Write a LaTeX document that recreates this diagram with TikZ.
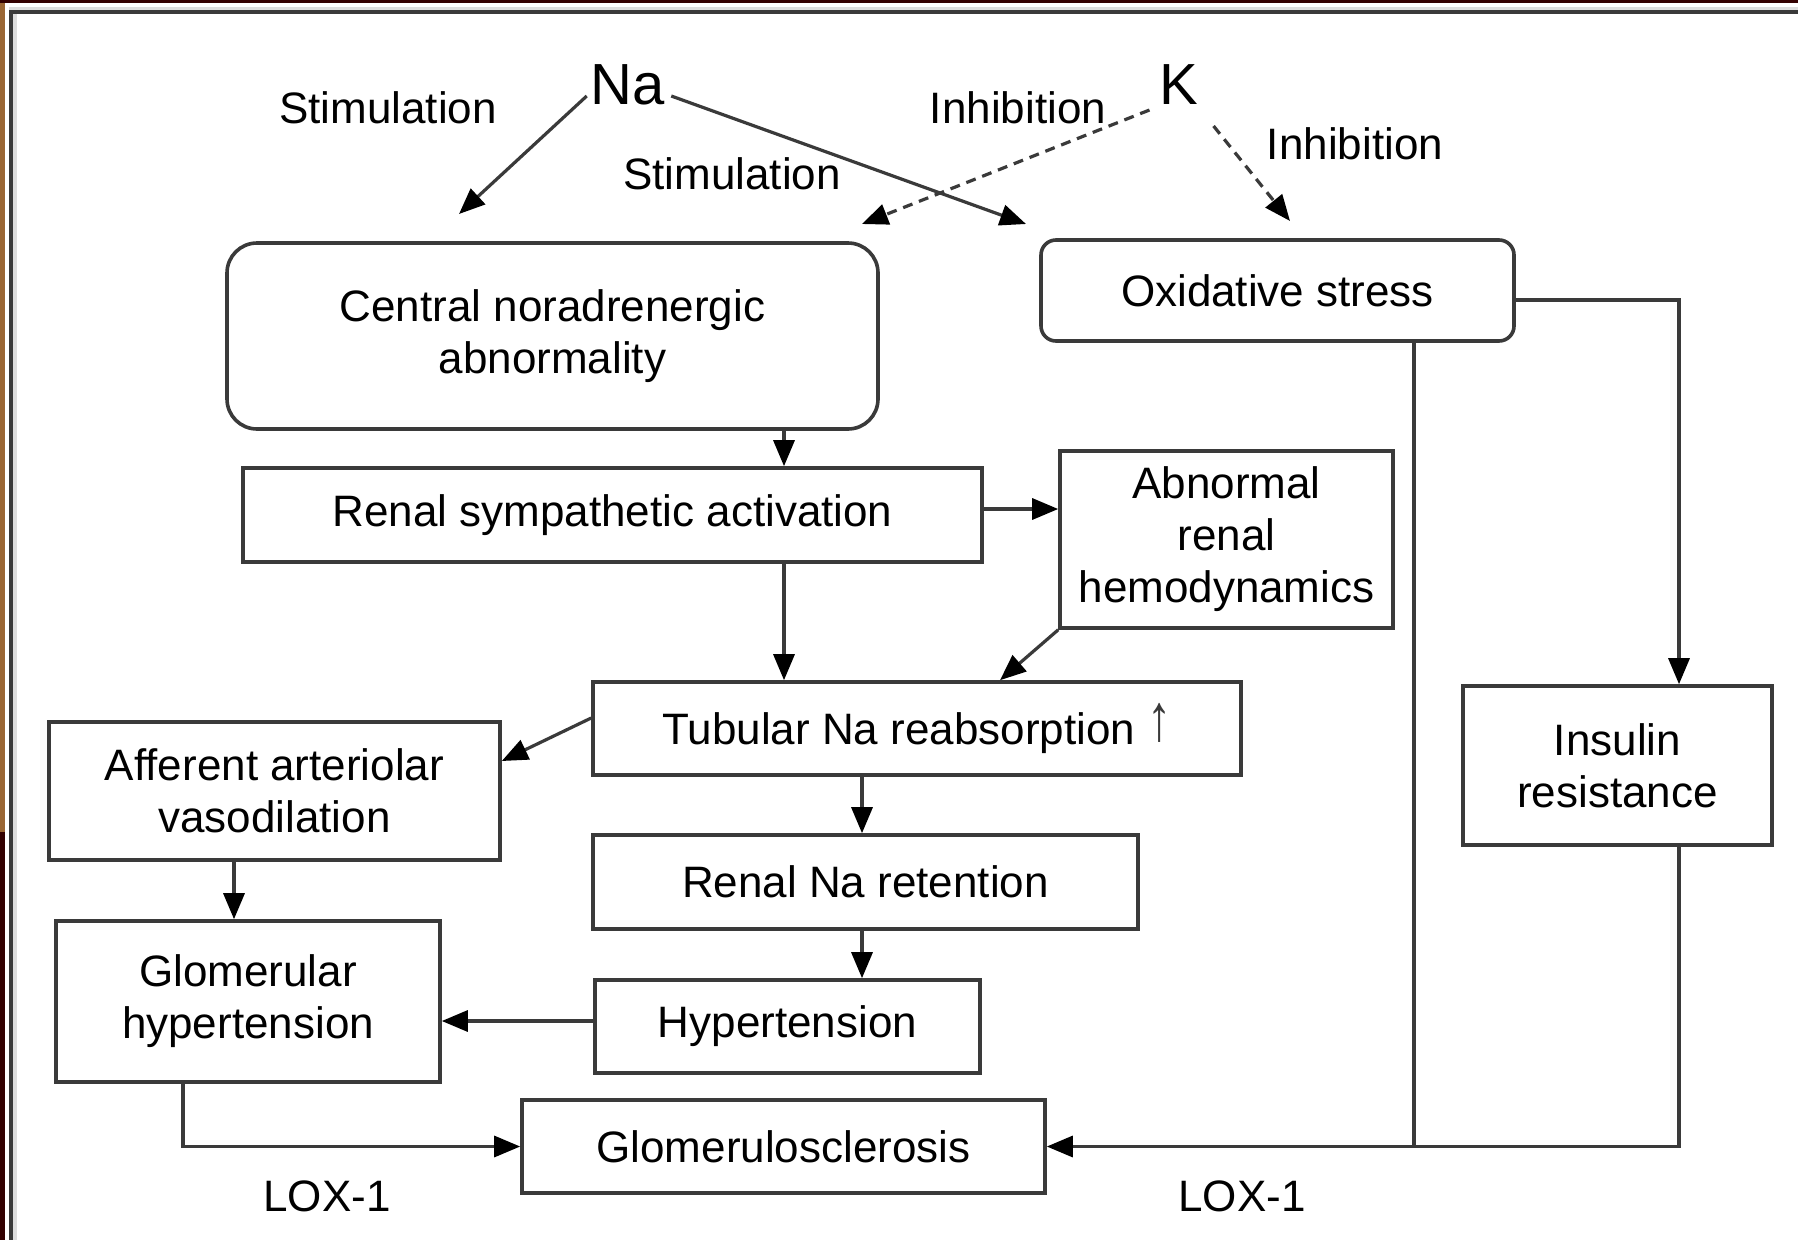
\documentclass[tikz,border=0pt]{standalone}
\usepackage{fontspec}
\setmainfont{Liberation Sans}
\usetikzlibrary{arrows.meta}
\definecolor{framebrown}{HTML}{9A6633}
\definecolor{framemaroon}{HTML}{330000}
\definecolor{linegray}{HTML}{3A3A3A}
\definecolor{lightrule}{HTML}{DDDDDD}
\begin{document}
\begin{tikzpicture}[x=1pt,y=-1pt,
  lbl/.style={font=\fontsize{44}{52}\selectfont, inner sep=0pt, align=center},
  box/.style={lbl, draw=linegray, line width=3.6pt, fill=white, rectangle},
  rbox/.style={box, rounded corners=#1},
  ion/.style={font=\fontsize{58}{60}\selectfont, inner sep=0pt},
  arr/.style={draw=linegray, line width=3.2pt, -{Triangle[length=26pt,width=21pt,color=black]}},
  darr/.style={arr, dash pattern=on 10pt off 7pt},
  plain/.style={draw=linegray, line width=3.2pt},
]
% page and frame
\useasboundingbox (0,0) rectangle (1798,1240);
\fill[white] (0,0) rectangle (1798,1240);
\fill[framebrown] (0,0) rectangle (5,832);
\fill[framemaroon] (0,832) rectangle (5,1240);
\fill[framemaroon] (0,0) rectangle (1798,3);
\fill[lightrule] (9,7) rectangle (1798,10);
\fill[linegray] (9,10) rectangle (1798,14);
\fill[linegray] (9,10) rectangle (13,1240);
\fill[lightrule] (13,14) rectangle (17,1240);

% ions and labels
\node[ion] (na) at (628,85) {Na};
\node[ion] (k) at (1179,85) {K};
\node[lbl] (stimL) at (388,108) {Stimulation};
\node[lbl] (stimM) at (732,174) {Stimulation};
\node[lbl] (inhL) at (1018,108) {Inhibition};
\node[lbl] (inhR) at (1355,144) {Inhibition};
\node[lbl] (loxL) at (327,1196) {LOX-1};
\node[lbl] (loxR) at (1242,1196) {LOX-1};

% boxes
\node[rbox=30pt, minimum width=651pt, minimum height=186pt] (cna) at (552.5,336) {Central noradrenergic\\abnormality};
\node[rbox=15pt, minimum width=473pt, minimum height=101pt] (oxs) at (1277.5,290.5) {Oxidative stress};
\node[box, minimum width=739pt, minimum height=94pt] (rsa) at (612.5,515) {Renal sympathetic activation};
\node[box, minimum width=333pt, minimum height=177pt] (arh) at (1226.5,539.5) {Abnormal\\renal\\hemodynamics};
\node[box, minimum width=648pt, minimum height=93pt] (tna) at (917,728.5) {Tubular Na reabsorption \raisebox{4pt}{\scalebox{1.1}[1.5]{\color{linegray}↑}}};
\node[box, minimum width=451pt, minimum height=138pt] (aav) at (274.5,791) {Afferent arteriolar\\vasodilation};
\node[box, minimum width=545pt, minimum height=94pt] (rnr) at (865.5,882) {Renal Na retention};
\node[box, minimum width=384pt, minimum height=161pt] (ghy) at (248,1001.5) {Glomerular\\hypertension};
\node[box, minimum width=385pt, minimum height=93pt] (hyp) at (787.5,1026.5) {Hypertension};
\node[box, minimum width=523pt, minimum height=93pt] (gsc) at (783.5,1146.5) {Glomerulosclerosis};
\node[box, minimum width=309pt, minimum height=159pt] (ins) at (1617.5,765.5) {Insulin\\resistance};

% free ends of the Na and K arrows
\coordinate (naTipL) at (459,214);
\coordinate (naTipR) at (1026,224);
\coordinate (kTipL) at (862,224);
\coordinate (kTipR) at (1290,221);

% Na and K effects
\draw[arr] ([shift={(-4,11)}]na.west) -- (naTipL);
\draw[arr] ([shift={(6,11)}]na.east) -- (naTipR);
\draw[darr] ([shift={(-10,25)}]k.west) -- (kTipL);
\draw[darr] ([shift={(15,41)}]k.east) -- (kTipR);

% main cascade
\draw[arr] (cna.south -| 784,0) -- (rsa.north -| 784,0);
\draw[arr] (rsa.east |- 0,509) -- (arh.west |- 0,509);
\draw[arr] (rsa.south -| 784,0) -- (tna.north -| 784,0);
\draw[arr] (arh.south west) -- (tna.north -| 1000,0);
\draw[arr] (tna.west |- 0,718) -- (aav.east |- 0,761);
\draw[arr] (tna.south -| 862,0) -- (rnr.north -| 862,0);
\draw[arr] (aav.south -| 234,0) -- (ghy.north -| 234,0);
\draw[arr] (rnr.south -| 862,0) -- (hyp.north -| 862,0);
\draw[arr] (hyp.west |- 0,1021) -- (ghy.east |- 0,1021);
\draw[arr] (ghy.south -| 183,0) |- (gsc.west);

% oxidative stress branch
\draw[arr] (oxs.east |- 0,300) -| (ins.north -| 1679,0);
\draw[plain] (oxs.south -| 1414,0) -- (gsc.east -| 1414,0);
\draw[arr] (ins.south -| 1679,0) |- (gsc.east);
\end{tikzpicture}
\end{document}
